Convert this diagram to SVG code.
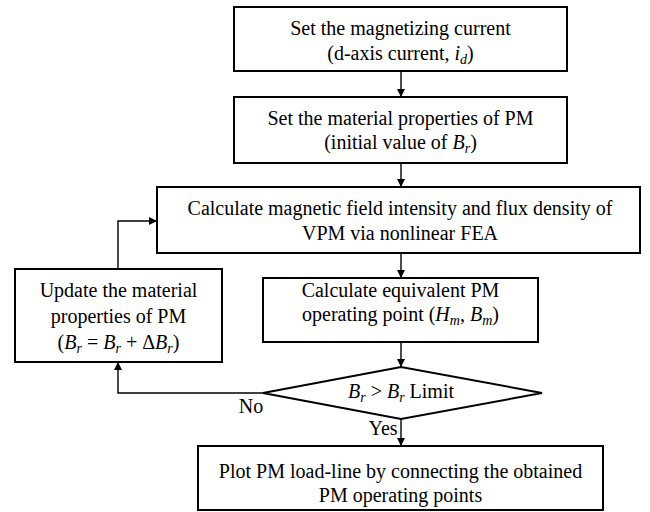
<svg xmlns="http://www.w3.org/2000/svg" width="650" height="512" viewBox="0 0 650 512">
  <style>
    .box { fill: #ffffff; stroke: #000000; stroke-width: 2; }
    .link { fill: none; stroke: #000000; stroke-width: 1.4; }
    text { font-family: "Liberation Serif", "Times New Roman", serif; font-size: 20px; fill: #000000; }
    .c { text-anchor: middle; }
    .m { font-style: italic; }
    .sub { font-style: italic; font-size: 14px; }
  </style>
  <defs>
    <marker id="arrow" viewBox="0 0 10 10" refX="10" refY="5" markerWidth="8" markerHeight="8" markerUnits="userSpaceOnUse" orient="auto">
      <path d="M0,0 L10,5 L0,10 Z" fill="#000000"/>
    </marker>
  </defs>
  <rect width="650" height="512" fill="#ffffff"/>

  <g id="connectors">
    <line class="link" x1="401" y1="71" x2="401" y2="97" marker-end="url(#arrow)"/>
    <line class="link" x1="401" y1="163" x2="401" y2="187" marker-end="url(#arrow)"/>
    <line class="link" x1="401" y1="253" x2="401" y2="278" marker-end="url(#arrow)"/>
    <line class="link" x1="401" y1="342" x2="401" y2="367" marker-end="url(#arrow)"/>
    <line class="link" x1="401" y1="419" x2="401" y2="446" marker-end="url(#arrow)"/>
    <polyline class="link" points="263,393 118,393 118,362" marker-end="url(#arrow)"/>
    <polyline class="link" points="118,269 118,221 157,221" marker-end="url(#arrow)"/>
    <text x="251" y="413" class="c">No</text>
    <text x="383" y="435" class="c">Yes</text>
  </g>

  <g id="set-current">
    <rect class="box" x="234" y="7" width="333" height="64"/>
    <text x="400.5" y="35" class="c">Set the magnetizing current</text>
    <text x="400.5" y="60" class="c">(d-axis current, <tspan class="m">i</tspan><tspan class="sub" dy="4">d</tspan><tspan dy="-4">)</tspan></text>
  </g>

  <g id="set-material">
    <rect class="box" x="234" y="97" width="333" height="66"/>
    <text x="400.5" y="125" class="c">Set the material properties of PM</text>
    <text x="400.5" y="149" class="c">(initial value of <tspan class="m">B</tspan><tspan class="sub" dy="4">r</tspan><tspan dy="-4">)</tspan></text>
  </g>

  <g id="fea">
    <rect class="box" x="157" y="187" width="483" height="66"/>
    <text x="400" y="215" class="c">Calculate magnetic field intensity and flux density of</text>
    <text x="400" y="240" class="c">VPM via nonlinear FEA</text>
  </g>

  <g id="operating-point">
    <rect class="box" x="263" y="278" width="275" height="64"/>
    <text x="400.5" y="297" class="c">Calculate equivalent PM</text>
    <text x="400.5" y="321" class="c">operating point (<tspan class="m">H</tspan><tspan class="sub" dy="4">m</tspan><tspan dy="-4">, </tspan><tspan class="m">B</tspan><tspan class="sub" dy="4">m</tspan><tspan dy="-4">)</tspan></text>
  </g>

  <g id="update-material">
    <rect class="box" x="15" y="269" width="207" height="93"/>
    <text x="118.5" y="297" class="c">Update the material</text>
    <text x="118.5" y="323" class="c">properties of PM</text>
    <text x="118.5" y="349" class="c">(<tspan class="m">B</tspan><tspan class="sub" dy="4">r</tspan><tspan dy="-4"> = </tspan><tspan class="m">B</tspan><tspan class="sub" dy="4">r</tspan><tspan dy="-4"> + Δ</tspan><tspan class="m">B</tspan><tspan class="sub" dy="4">r</tspan><tspan dy="-4">)</tspan></text>
  </g>

  <g id="limit-check">
    <polygon class="box" points="263,393 401,367 542,393 401,419"/>
    <text x="401" y="398" class="c"><tspan class="m">B</tspan><tspan class="sub" dy="4">r</tspan><tspan dy="-4"> &gt; </tspan><tspan class="m">B</tspan><tspan class="sub" dy="4">r</tspan><tspan dy="-4"> Limit</tspan></text>
  </g>

  <g id="load-line">
    <rect class="box" x="198" y="446" width="405" height="64"/>
    <text x="400.5" y="478" class="c">Plot PM load-line by connecting the obtained</text>
    <text x="400.5" y="502" class="c">PM operating points</text>
  </g>
</svg>
